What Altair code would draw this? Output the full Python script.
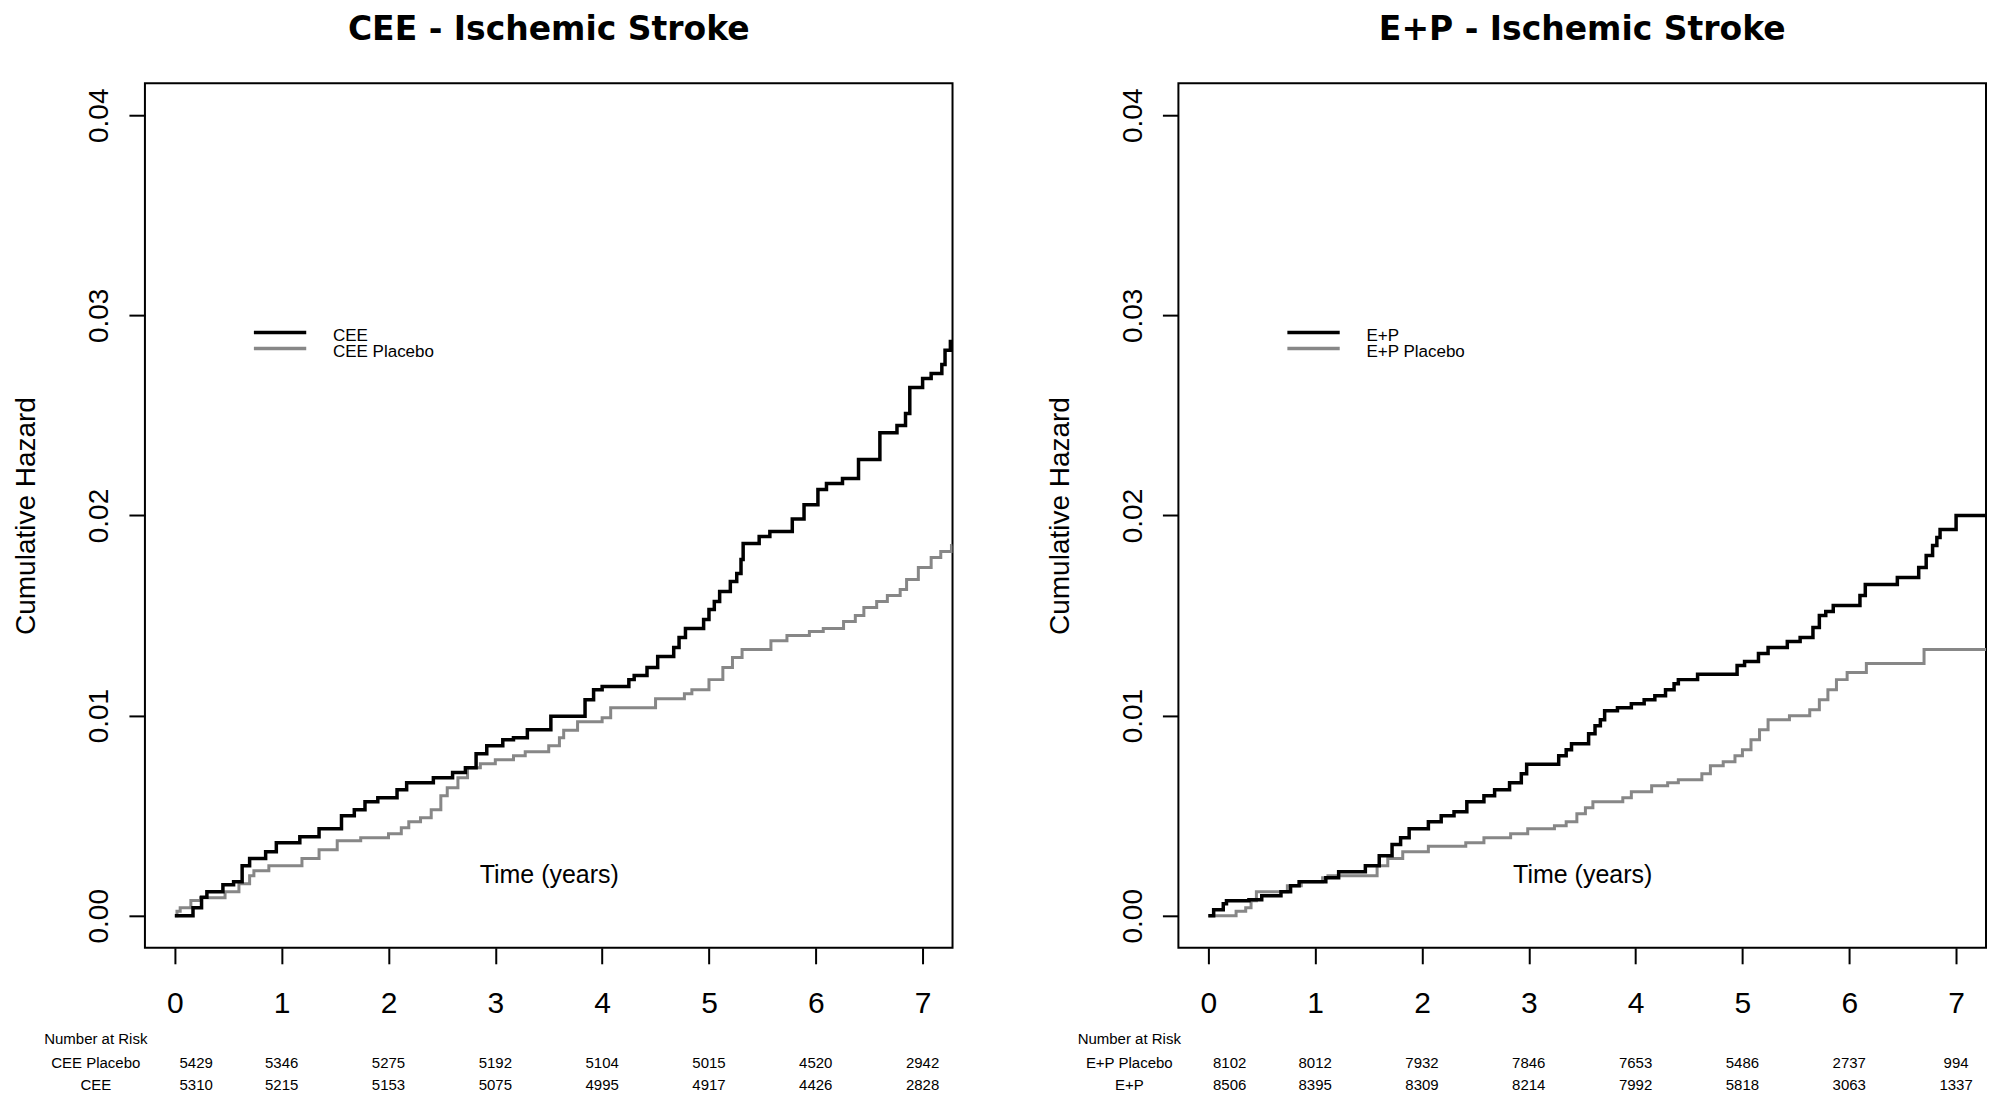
import altair as alt
import pandas as pd

FONT = "Liberation Sans"
TITLE_FONT = "DejaVu Sans"
GRAY = "#878787"

X_DOMAIN = [-0.28, 7.28]
Y_DOMAIN = [-0.0016, 0.0416]
X_TICKS = [0, 1, 2, 3, 4, 5, 6, 7]
Y_TICKS = [0.0, 0.01, 0.02, 0.03, 0.04]

# ---- CEE panel ----
cee_t = [0, 0.17, 0.25, 0.30, 0.45, 0.55, 0.63, 0.70, 0.85, 0.95, 1.17, 1.35, 1.56, 1.68, 1.78,
         1.90, 2.08, 2.17, 2.42, 2.60, 2.72, 2.82, 2.92, 3.07, 3.17, 3.30, 3.52, 3.84, 3.92, 4.00,
         4.25, 4.30, 4.42, 4.52, 4.67, 4.72, 4.78, 4.95, 5.00, 5.05, 5.10, 5.20, 5.26, 5.30, 5.32,
         5.47, 5.57, 5.78, 5.89, 6.02, 6.10, 6.25, 6.40, 6.60, 6.76, 6.84, 6.88, 7.00, 7.08, 7.18,
         7.21, 7.26, 7.28]
cee_h = [0, 0.0004, 0.00093, 0.0012, 0.00155, 0.0017, 0.0025, 0.00286, 0.0032, 0.00365, 0.00395,
         0.00435, 0.0050, 0.0053, 0.0057, 0.0059, 0.0063, 0.00665, 0.0069, 0.00716, 0.0074, 0.0081,
         0.0085, 0.0088, 0.0089, 0.0093, 0.00997, 0.0108, 0.0113, 0.01146, 0.0118, 0.0120, 0.0124,
         0.01295, 0.0134, 0.0139, 0.01436, 0.0148, 0.0153, 0.0157, 0.0162, 0.0167, 0.0171, 0.0178,
         0.0186, 0.01895, 0.0192, 0.01983, 0.02054, 0.0213, 0.0216, 0.02185, 0.0228, 0.02414, 0.0245,
         0.0251, 0.0264, 0.02685, 0.0271, 0.02755, 0.02826, 0.0287, 0.0287]
cee_plc_t = [0, 0.02, 0.05, 0.15, 0.24, 0.47, 0.60, 0.70, 0.74, 0.88, 1.19, 1.35, 1.52, 1.74, 2.00,
             2.12, 2.19, 2.30, 2.40, 2.49, 2.55, 2.65, 2.74, 2.86, 3.00, 3.17, 3.28, 3.50, 3.60, 3.64,
             3.77, 4.00, 4.08, 4.50, 4.77, 4.84, 5.00, 5.13, 5.22, 5.31, 5.58, 5.73, 5.94, 6.07, 6.26,
             6.37, 6.45, 6.57, 6.67, 6.79, 6.85, 6.96, 7.08, 7.17, 7.27, 7.28]
cee_plc_h = [0, 0.00023, 0.0004, 0.00076, 0.0009, 0.0012, 0.0016, 0.0020, 0.00225, 0.0025, 0.00286,
             0.0033, 0.00375, 0.0039, 0.0041, 0.0044, 0.0047, 0.0049, 0.0053, 0.0060, 0.0064, 0.0069,
             0.0074, 0.0076, 0.0078, 0.0080, 0.0082, 0.0085, 0.0089, 0.00927, 0.0097, 0.0099, 0.0104,
             0.01085, 0.0111, 0.0113, 0.0118, 0.0124, 0.0129, 0.0133, 0.01374, 0.0140, 0.0142,
             0.01435, 0.0147, 0.0150, 0.0154, 0.0157, 0.0160, 0.0163, 0.0168, 0.0174, 0.0179, 0.0182,
             0.0185, 0.0185]

# ---- E+P panel ----
ep_t = [0, 0.05, 0.14, 0.17, 0.38, 0.50, 0.68, 0.77, 0.85, 1.10, 1.22, 1.47, 1.60, 1.72, 1.80,
        1.88, 2.06, 2.18, 2.30, 2.42, 2.58, 2.68, 2.82, 2.93, 2.98, 3.28, 3.35, 3.40, 3.56, 3.62,
        3.67, 3.71, 3.83, 3.96, 4.08, 4.18, 4.28, 4.36, 4.40, 4.58, 4.95, 5.02, 5.15, 5.24, 5.42,
        5.54, 5.66, 5.72, 5.78, 5.85, 6.10, 6.15, 6.45, 6.65, 6.72, 6.78, 6.82, 6.85, 7.00, 7.28]
ep_h = [0, 0.0003, 0.0006, 0.00075, 0.0008, 0.0010, 0.0012, 0.0015, 0.0017, 0.0019, 0.0022,
        0.0025, 0.0030, 0.00356, 0.0039, 0.00435, 0.0047, 0.0050, 0.0052, 0.0057, 0.0060, 0.0063,
        0.00665, 0.0071, 0.00757, 0.0080, 0.0083, 0.0086, 0.0091, 0.0095, 0.0098, 0.01025, 0.0104,
        0.0106, 0.0108, 0.0110, 0.0113, 0.0116, 0.0118, 0.01207, 0.0125, 0.0127, 0.0131, 0.0134,
        0.0137, 0.0139, 0.0144, 0.0150, 0.0152, 0.0155, 0.0160, 0.01655, 0.0169, 0.0174, 0.0180,
        0.0185, 0.0189, 0.0193, 0.0200, 0.0200]
ep_plc_t = [0, 0.26, 0.35, 0.40, 0.45, 0.74, 0.87, 1.07, 1.12, 1.58, 1.68, 1.82, 2.06, 2.41, 2.58,
            2.83, 2.99, 3.24, 3.35, 3.45, 3.53, 3.60, 3.88, 3.96, 4.15, 4.30, 4.40, 4.62, 4.70,
            4.82, 4.93, 5.00, 5.08, 5.16, 5.24, 5.44, 5.63, 5.72, 5.80, 5.88, 5.98, 6.16, 6.70, 7.28]
ep_plc_h = [0, 0.00023, 0.0004, 0.00075, 0.0012, 0.0015, 0.0017, 0.0019, 0.0020, 0.0025, 0.00286,
            0.0032, 0.00347, 0.00365, 0.0039, 0.0041, 0.00435, 0.0045, 0.0047, 0.0051, 0.0054,
            0.0057, 0.0059, 0.0062, 0.0065, 0.00665, 0.0068, 0.0071, 0.0075, 0.0077, 0.0080, 0.0083,
            0.0088, 0.0093, 0.0098, 0.0100, 0.0103, 0.0108, 0.0113, 0.0118, 0.01216, 0.0126, 0.0133,
            0.0133]

# ---- Number at risk ----
risk_times = [0.2, 1, 2, 3, 4, 5, 6, 7]
cee_placebo_risk = [5429, 5346, 5275, 5192, 5104, 5015, 4520, 2942]
cee_risk = [5310, 5215, 5153, 5075, 4995, 4917, 4426, 2828]
ep_placebo_risk = [8102, 8012, 7932, 7846, 7653, 5486, 2737, 994]
ep_risk = [8506, 8395, 8309, 8214, 7992, 5818, 3063, 1337]
risk_label_t = -0.74

# ---- in-plot legend (data coords) ----
legend_line_t = [0.74, 1.23]
legend_line_h = [0.02915, 0.02835]
legend_text_t = 1.48
legend_text_h = [0.0287, 0.0279]

W, H = 808, 865


def panel(title, act_name, plc_name, act_t, act_h, plc_t, plc_h, plc_risk, act_risk):
    xs = alt.Scale(domain=X_DOMAIN, nice=False, zero=False)
    ys = alt.Scale(domain=Y_DOMAIN, nice=False, zero=False)
    xa = alt.Axis(values=X_TICKS, format="d", title="Time (years)", grid=False, domain=False,
                  tickSize=16, tickWidth=2, tickColor="black",
                  labelFont=FONT, labelFontSize=30, labelColor="black", labelPadding=49,
                  labelBaseline="alphabetic", labelAlign="center", labelFlush=False,
                  labelOverlap=False,
                  titleFont=FONT, titleFontSize=25, titleFontWeight="normal", titleColor="black",
                  titleX=W / 2, titleY=-65, titleBaseline="alphabetic", titleAlign="center")
    ya = alt.Axis(values=Y_TICKS, format=".2f", title="Cumulative Hazard", grid=False,
                  domain=False, tickSize=16, tickWidth=2, tickColor="black",
                  labelFont=FONT, labelFontSize=28, labelColor="black", labelAngle=270,
                  labelAlign="center", labelBaseline="alphabetic", labelPadding=21,
                  labelFlush=False, labelOverlap=False,
                  titleFont=FONT, titleFontSize=28, titleFontWeight="normal", titleColor="black",
                  titleAngle=270, titleX=-110, titleY=H / 2, titleAlign="center",
                  titleBaseline="alphabetic")
    X = lambda f="t": alt.X(f + ":Q", scale=xs, axis=xa)
    Y = lambda f="h": alt.Y(f + ":Q", scale=ys, axis=ya)

    plc = alt.Chart(pd.DataFrame({"t": plc_t, "h": plc_h})).mark_line(
        interpolate="step-after", color=GRAY, strokeWidth=3, clip=True).encode(x=X(), y=Y())
    act = alt.Chart(pd.DataFrame({"t": act_t, "h": act_h})).mark_line(
        interpolate="step-after", color="black", strokeWidth=3.5, clip=True).encode(x=X(), y=Y())

    leg_df = pd.DataFrame({"t": [legend_line_t[0]] * 2, "t2": [legend_line_t[1]] * 2,
                           "h": legend_line_h, "name": [act_name, plc_name]})
    leg_lines = alt.Chart(leg_df).mark_rule(strokeWidth=3.5).encode(
        x=X(), x2="t2:Q", y=Y(),
        color=alt.Color("name:N", scale=alt.Scale(domain=[act_name, plc_name],
                                                  range=["black", GRAY]), legend=None))
    leg_txt = alt.Chart(pd.DataFrame({"t": [legend_text_t] * 2, "h": legend_text_h,
                                      "name": [act_name, plc_name]})).mark_text(
        align="left", baseline="alphabetic", font=FONT, fontSize=17, color="black").encode(
        x=X(), y=Y(), text="name:N")

    def row(labels, ypix):
        df = pd.DataFrame({"t": [risk_label_t] + risk_times[:len(labels) - 1],
                           "txt": [str(v) for v in labels]})
        return alt.Chart(df).mark_text(align="center", baseline="alphabetic", font=FONT,
                                       fontSize=15, color="black").encode(
            x=X(), y=alt.value(ypix), text="txt:N")

    r0 = row(["Number at Risk"], 961)
    r1 = row([plc_name] + plc_risk, 985)
    r2 = row([act_name] + act_risk, 1007)

    return alt.layer(r0, r1, r2, leg_lines, leg_txt, plc, act).properties(
        width=W, height=H,
        title=alt.TitleParams(title, anchor="middle", frame="group", offset=10,
                              baseline="alphabetic", font=TITLE_FONT, fontSize=33,
                              fontWeight="bold", color="black"))


left = panel("CEE - Ischemic Stroke", "CEE", "CEE Placebo", cee_t, cee_h, cee_plc_t, cee_plc_h,
             cee_placebo_risk, cee_risk)
right = panel("E+P - Ischemic Stroke", "E+P", "E+P Placebo", ep_t, ep_h, ep_plc_t, ep_plc_h,
              ep_placebo_risk, ep_risk)

chart = alt.hconcat(left, right, spacing=226, bounds="flush").properties(
    padding={"left": 4, "top": 5, "right": 1, "bottom": 0}, background="white"
).configure_view(stroke="black", strokeWidth=2)

chart.save("out.html", embed_options={"renderer": "svg", "actions": False})
